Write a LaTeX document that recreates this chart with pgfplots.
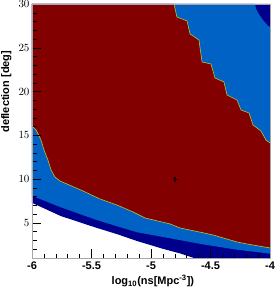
\documentclass[border=0pt]{standalone}
\usepackage{pgfplots}
\pgfplotsset{compat=1.18}
\usepackage{fontspec}
\setmainfont{Liberation Sans}
\definecolor{rred}{RGB}{130,0,0}
\definecolor{lblue}{RGB}{0,98,196}
\definecolor{dblue}{RGB}{0,0,140}
\definecolor{cont}{RGB}{175,200,60}
\begin{document}
\begin{tikzpicture}
\begin{axis}[
  scale only axis, width=238pt, height=254pt,
  xmin=-6, xmax=-4, ymin=1, ymax=30,
  axis on top,
  xtick={-6,-5.5,-5,-4.5,-4},
  xticklabels={-6,-5.5,-5,-4.5,-4},
  ytick={5,10,15,20,25,30},
  minor ytick={1,2,3,4,6,7,8,9,11,12,13,14,16,17,18,19,21,22,23,24,26,27,28,29},
  minor xtick={-5.9,-5.8,-5.7,-5.6,-5.4,-5.3,-5.2,-5.1,-4.9,-4.8,-4.7,-4.6,-4.4,-4.3,-4.2,-4.1},
  tick pos=left, tick align=inside,
  major tick length=9pt, minor tick length=4.5pt,
  tick style={black, line width=0.5pt},
  axis line style={gray!70, line width=0.6pt},
  tick label style={font=\bfseries\fontsize{11}{13}\selectfont},
  xticklabel style={yshift=-0.5pt},
  yticklabel style={xshift=1pt},
  xlabel={\bfseries log\textsubscript{10}(ns[Mpc\textsuperscript{-3}])},
  ylabel={\bfseries deflection [deg]},
  label style={font=\bfseries\fontsize{11}{13}\selectfont},
  xlabel style={at={(axis description cs:0.508,-0.09)}, anchor=center},
  ylabel style={at={(axis description cs:-0.108,0.655)}, anchor=center},
]
% dark blue: above dark/white boundary
\addplot[fill=dblue, draw=none] coordinates {
 (-6,7.3) (-5.76,5.8) (-5.47,4.5) (-5.28,3.7) (-5.12,2.95) (-4.9,2.05) (-4.75,1.5) (-4.64,1.0)
 (-4,1) (-4,30) (-6,30)} -- cycle;
% light blue: above light/dark boundary, excluding top-right dark patch
\addplot[fill=lblue, draw=none] coordinates {
 (-6,8.1) (-5.76,6.8) (-5.47,5.4) (-5.28,4.6) (-5.12,3.95) (-4.84,3.25) (-4.56,2.55) (-4.28,1.95) (-4,1.5)
 (-4,27.4) (-4.017,27.5) (-4.059,28.17) (-4.1,28.97) (-4.118,29.5) (-4.126,30) (-6,30)} -- cycle;
% red region
\addplot[fill=rred, draw=none] coordinates {
 (-6,16.07) (-5.966,15.62) (-5.924,14.47) (-5.899,13.33) (-5.866,12.19) (-5.840,11.05)
 (-5.807,10.25) (-5.765,9.79) (-5.706,9.45) (-5.571,8.65) (-5.429,7.74) (-5.286,7.05)
 (-5.151,6.26) (-5.050,5.57) (-4.840,4.89) (-4.756,4.43) (-4.555,3.86) (-4.479,3.63)
 (-4.277,2.83) (-4.193,2.60) (-4.0,2.15)
 (-4.0,14.13) (-4.034,14.47) (-4.076,15.50) (-4.143,16.19) (-4.176,17.56) (-4.244,17.90)
 (-4.277,19.04) (-4.361,19.61) (-4.387,21.10) (-4.462,21.55) (-4.496,23.15) (-4.571,23.38)
 (-4.597,25.89) (-4.672,26.58) (-4.697,28.06) (-4.782,28.52) (-4.807,30) (-6,30)} -- cycle;
% contour lines
\addplot[cont, line width=0.6pt] coordinates {
 (-6,16.07) (-5.966,15.62) (-5.924,14.47) (-5.899,13.33) (-5.866,12.19) (-5.840,11.05)
 (-5.807,10.25) (-5.765,9.79) (-5.706,9.45) (-5.571,8.65) (-5.429,7.74) (-5.286,7.05)
 (-5.151,6.26) (-5.050,5.57) (-4.840,4.89) (-4.756,4.43) (-4.555,3.86) (-4.479,3.63)
 (-4.277,2.83) (-4.193,2.60) (-4.0,2.15)};
\addplot[cont, line width=0.6pt] coordinates {
 (-4.0,14.13) (-4.034,14.47) (-4.076,15.50) (-4.143,16.19) (-4.176,17.56) (-4.244,17.90)
 (-4.277,19.04) (-4.361,19.61) (-4.387,21.10) (-4.462,21.55) (-4.496,23.15) (-4.571,23.38)
 (-4.597,25.89) (-4.672,26.58) (-4.697,28.06) (-4.782,28.52) (-4.807,30)};
% best-fit marker
\addplot[only marks, mark=+, mark size=2.5pt, line width=1.3pt, color=black!85!red] coordinates {(-4.798,10.0)};
\end{axis}
\pgfresetboundingbox
\path[use as bounding box] (-32pt,-31pt) rectangle (242pt,258pt);
\end{tikzpicture}
\end{document}
